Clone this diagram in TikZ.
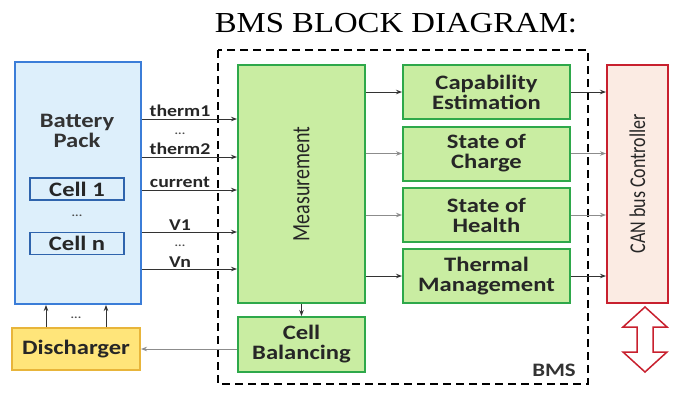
\documentclass[tikz,border=0pt]{standalone}
\usepackage{fontspec}
\setmainfont{Carlito}[FakeStretch=1.2]
\newfontfamily\rotfont{Carlito}
\newfontfamily\titlefont{Liberation Serif}[FakeStretch=1.13]
\usetikzlibrary{arrows.meta}
\definecolor{cpack}{HTML}{DDEFFB}
\definecolor{cpackline}{HTML}{3B7DD8}
\definecolor{cgreen}{HTML}{C9EDA2}
\definecolor{cgreenline}{HTML}{2EA84A}
\definecolor{ccan}{HTML}{FBEBE3}
\definecolor{ccanline}{HTML}{C8202E}
\definecolor{cdis}{HTML}{FFE57A}
\definecolor{cdisline}{HTML}{E8B53A}
\newcommand{\boxfont}{\fontsize{20.5}{20}\selectfont\bfseries}
\newcommand{\sigfont}{\fontsize{16.5}{16}\selectfont\bfseries}
\newcommand{\uptext}[2]{\scalebox{1.25}[1]{\rotatebox{90}{\rotfont\mdseries\fontsize{#1}{#1}\selectfont #2}}}

\begin{document}
\begin{tikzpicture}[x=1pt,y=-1pt,
    blk/.style={draw=cgreenline,fill=cgreen,line width=2pt,minimum width=167pt,
      minimum height=54pt,inner sep=0pt,align=center,font=\boxfont,text=black!85},
    cellbox/.style={draw=cpackline!80!black,fill=cpack,line width=1.5pt,minimum width=94pt,
      minimum height=22pt,inner sep=0pt,font=\boxfont,text=black!85},
    sig/.style={black!80,line width=0.9pt,-{Stealth[length=6pt,width=4.5pt]}},
    siggray/.style={sig,black!45},
    siglab/.style={font=\sigfont,text=black!85,inner sep=1.5pt},
    dots/.style={font=\fontsize{11}{11}\selectfont\bfseries,text=black!70}]
  \useasboundingbox (0,0) rectangle (673,392);
  % title
  \node[font=\titlefont\fontsize{29}{29}\selectfont,anchor=base] (title) at (396,32) {BMS BLOCK DIAGRAM:};
  % BMS frame
  \draw[line width=2.6pt,dash pattern=on 8pt off 5pt] (218,50) rectangle (588,384);
  \node[font=\fontsize{19}{19}\selectfont\bfseries,text=black!80] (bmslab) at (554,370) {BMS};
  % battery pack
  \node[draw=cpackline,fill=cpack,line width=2pt,minimum width=126pt,minimum height=242pt,
    inner sep=0pt] (batt) at (78,183) {};
  \node[font=\boxfont,align=center,text=black!80] (battlab) at (77,131) {Battery\\Pack};
  \node[cellbox] (cell1) at (77,189) {Cell 1};
  \node[dots] (celldots) at (77,216) {...};
  \node[cellbox] (celln) at (77,243.5) {Cell n};
  % discharger
  \node[draw=cdisline,fill=cdis,line width=2pt,minimum width=128pt,minimum height=42pt,
    inner sep=0pt,font=\boxfont,text=black!85] (dis) at (76,349) {Discharger};
  % BMS blocks
  \node[blk,minimum width=127pt,minimum height=238pt] (meas) at (301.5,184)
    {\uptext{20}{Measurement}};
  \node[blk,minimum width=127pt,minimum height=55pt] (bal) at (301.5,344.5) {Cell\\Balancing};
  \node[blk] (cap) at (486.5,92) {Capability\\Estimation};
  \node[blk] (soc) at (486.5,153.5) {State of\\Charge};
  \node[blk] (soh) at (486.5,215) {State of\\Health};
  \node[blk] (therm) at (486.5,276) {Thermal\\Management};
  % CAN bus
  \node[draw=ccanline,fill=ccan,line width=2pt,minimum width=61pt,minimum height=238pt,
    inner sep=0pt,text=black!85] (can) at (637.5,184) {\uptext{18}{CAN bus Controller}};
  \draw[ccanline,fill=white,line width=1.5pt] (645,307) -- (667,327) -- (653,327) -- (653,352)
    -- (667,352) -- (645,372) -- (623,352) -- (637,352) -- (637,327) -- (623,327) -- cycle;
  % sensor lines
  \foreach \y/\lab in {119/therm1,157/therm2,190/current,232/V1,269/Vn}
    \draw[sig] (batt.east |- 0,\y) -- node[siglab,above,pos=0.4] {\lab} (meas.west |- 0,\y);
  \node[dots] (tdots) at (180,134) {...};
  \node[dots] (vdots) at (180,246) {...};
  % measurement outputs
  \draw[sig] (meas.east |- cap) -- (cap.west);
  \draw[siggray] (meas.east |- soc) -- (soc.west);
  \draw[siggray] (meas.east |- soh) -- (soh.west);
  \draw[sig] (meas.east |- therm) -- (therm.west);
  \draw[sig] (meas.south) -- (bal.north);
  % to CAN bus
  \draw[sig] (cap.east) -- (can.west |- cap);
  \draw[siggray] (soc.east) -- (can.west |- soc);
  \draw[siggray] (soh.east) -- (can.west |- soh);
  \draw[sig] (therm.east) -- (can.west |- therm);
  % balancing loop
  \draw[siggray] (bal.west |- dis) -- (dis.east);
  \draw[sig] (dis.north -| 46,0) -- (batt.south -| 46,0);
  \draw[sig] (dis.north -| 106,0) -- (batt.south -| 106,0);
  \node[dots] (disdots) at (76,318) {...};
\end{tikzpicture}
\end{document}
